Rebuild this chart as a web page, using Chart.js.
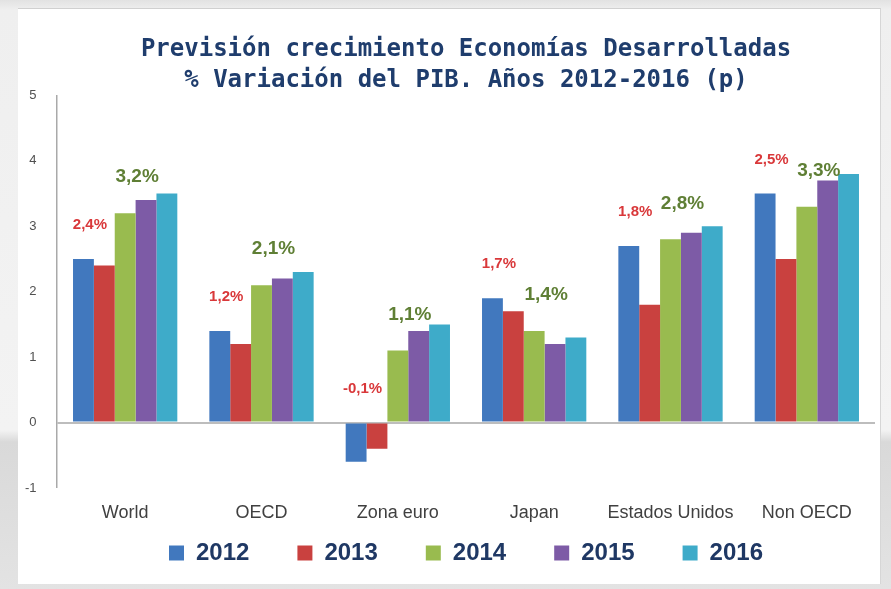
<!DOCTYPE html>
<html>
<head>
<meta charset="utf-8">
<script src="https://cdn.jsdelivr.net/npm/chart.js@4.4.1/dist/chart.umd.min.js"></script>
<style>
  html, body { margin: 0; padding: 0; }
  body {
    width: 891px; height: 589px; overflow: hidden; position: relative;
    background: linear-gradient(to bottom, #e2e2e2 0, #efefef 10px, #f3f3f3 430px, #d9d9d9 442px, #e3e3e3 589px);
  }
  #card {
    position: absolute; left: 18px; top: 8px; width: 862px; height: 575px;
    background: #fff; border-top: 1px solid #d0d0d0; border-right: 1px solid #d6d6d6;
  }
</style>
</head>
<body>
<div id="card"><canvas id="chart" width="862" height="575"></canvas></div>
<script>
const categories = ['World', 'OECD', 'Zona euro', 'Japan', 'Estados Unidos', 'Non OECD'];
const years = ['2012', '2013', '2014', '2015', '2016'];

const v2012 = [2.5, 1.4, -0.6, 1.9, 2.7, 3.5];
const v2013 = [2.4, 1.2, -0.4, 1.7, 1.8, 2.5];
const v2014 = [3.2, 2.1, 1.1, 1.4, 2.8, 3.3];
const v2015 = [3.4, 2.2, 1.4, 1.2, 2.9, 3.7];
const v2016 = [3.5, 2.3, 1.5, 1.3, 3.0, 3.8];

// text of the little annotations above the 2013 (red) and 2014 (green) bars
const labels2013 = ['2,4%', '1,2%', '-0,1%', '1,7%', '1,8%', '2,5%'];
const labels2014 = ['3,2%', '2,1%', '1,1%', '1,4%', '2,8%', '3,3%'];

const yTicks = [-1, 0, 1, 2, 3, 4, 5];

const colors = ['#4178be', '#c9413f', '#99bb4f', '#7d5ba6', '#3eabc9'];
const series = [v2012, v2013, v2014, v2015, v2016];

const barNotes = {
  id: 'barNotes',
  afterDatasetsDraw(chart) {
    const { ctx } = chart;
    const y = chart.scales.y;
    const blue = chart.getDatasetMeta(0).data;
    const red = chart.getDatasetMeta(1).data;
    const green = chart.getDatasetMeta(2).data;
    ctx.save();
    ctx.textAlign = 'center';
    ctx.textBaseline = 'middle';
    categories.forEach((_, i) => {
      const top = Math.max(v2012[i], v2013[i], 0);
      ctx.font = 'bold 15px "Liberation Sans", Arial, sans-serif';
      ctx.fillStyle = '#d9383a';
      ctx.fillText(labels2013[i], (blue[i].x + red[i].x) / 2 - 4, y.getPixelForValue(top) - 34);
      ctx.font = 'bold 19px "Liberation Sans", Arial, sans-serif';
      ctx.fillStyle = '#5f7f35';
      ctx.fillText(labels2014[i], green[i].x + 12, y.getPixelForValue(v2014[i]) - 36);
    });
    ctx.restore();
  }
};

new Chart(document.getElementById('chart'), {
  type: 'bar',
  data: {
    labels: categories,
    datasets: years.map((yr, i) => ({
      label: yr,
      data: series[i],
      backgroundColor: colors[i],
      borderWidth: 0,
      barPercentage: 1.0,
      categoryPercentage: 0.765
    }))
  },
  options: {
    responsive: false,
    animation: false,
    layout: { padding: { left: 39, right: 5, top: 0, bottom: 9 } },
    plugins: {
      title: {
        display: true,
        text: ['Previsión crecimiento Economías Desarrolladas', '% Variación del PIB. Años 2012-2016 (p)'],
        color: '#1f3d6d',
        font: { family: '"DejaVu Sans Mono", monospace', size: 24, weight: 'bold', lineHeight: 1.3 },
        padding: { top: 25, bottom: -1 }
      },
      legend: {
        position: 'bottom',
        labels: {
          boxWidth: 15,
          boxHeight: 15,
          padding: 48,
          color: '#1f3864',
          font: { family: '"Liberation Sans", Arial, sans-serif', size: 24, weight: 'bold' }
        }
      },
      tooltip: { enabled: false }
    },
    scales: {
      x: {
        grid: { display: false },
        border: { display: false },
        ticks: {
          mirror: true,
          padding: -36,
          color: '#404040',
          font: { family: '"Liberation Sans", Arial, sans-serif', size: 18 }
        },
        afterFit(scale) { scale.height = 5; }
      },
      y: {
        min: yTicks[0],
        max: yTicks[yTicks.length - 1],
        afterBuildTicks(scale) { scale.ticks = yTicks.map(v => ({ value: v })); },
        grid: {
          drawTicks: false,
          color: c => (c.tick && c.tick.value === 0 ? '#bdbdbd' : 'rgba(0,0,0,0)'),
          lineWidth: c => (c.tick && c.tick.value === 0 ? 2 : 0)
        },
        border: { display: true, color: '#a9a9a9', width: 1.5 },
        ticks: {
          mirror: true,
          crossAlign: 'far',
          padding: -32,
          color: '#505050',
          font: { family: '"Liberation Sans", Arial, sans-serif', size: 13 }
        },
        afterFit(scale) { scale.width = 0; }
      }
    }
  },
  plugins: [barNotes]
});
</script>
</body>
</html>
